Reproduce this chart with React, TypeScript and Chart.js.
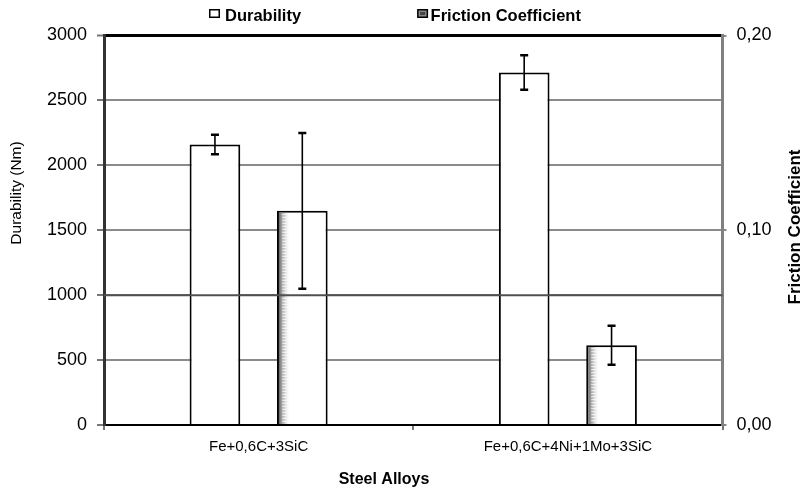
import React, { useEffect, useRef } from 'react';
import { Chart, registerables } from 'chart.js';

Chart.register(...registerables);

// ---- data ----
const categories = ['Fe+0,6C+3SiC', 'Fe+0,6C+4Ni+1Mo+3SiC'];
const seriesNames = ['Durability', 'Friction Coefficient'];
const durability = [2160, 2715];
const durabilityErr = [75, 133];
const friction = [0.11, 0.041];
const frictionErr = [0.04, 0.01];
const durabilityRange = [0, 3000];
const durabilityStep = 500;
const frictionRange = [0, 0.2];
const frictionStep = 0.1;
const overGridValue = 1000;
const leftTitle = 'Durability (Nm)';
const rightTitle = 'Friction Coefficient';
const bottomTitle = 'Steel Alloys';

const FONT = '"Liberation Sans", Arial, sans-serif';

const overlayPlugin = {
  id: 'overlay',
  afterDatasetsDraw(chart: any) {
    const { ctx, chartArea, scales } = chart;
    ctx.save();
    // shading strip on friction bars
    const meta1 = chart.getDatasetMeta(1);
    meta1.data.forEach((bar: any) => {
      const { x, y, base, width } = bar.getProps(['x', 'y', 'base', 'width'], true);
      const left = x - width / 2 + 2;
      const top = y + 2;
      const stripW = 11;
      const g = ctx.createLinearGradient(left, 0, left + stripW, 0);
      g.addColorStop(0, 'rgba(95,95,95,0.95)');
      g.addColorStop(0.5, 'rgba(170,170,170,0.6)');
      g.addColorStop(1, 'rgba(255,255,255,0)');
      ctx.fillStyle = g;
      ctx.fillRect(left, top, stripW, base - top);
      ctx.fillStyle = 'rgba(255,255,255,0.8)';
      for (let yy = top + 1; yy < base - 1; yy += 3) ctx.fillRect(left + 3, yy, 5, 1);
    });
    // gridline that shows over bars
    const py = scales.y.getPixelForValue(overGridValue);
    ctx.strokeStyle = '#505050';
    ctx.lineWidth = 2;
    ctx.beginPath();
    ctx.moveTo(chartArea.left, py);
    ctx.lineTo(chartArea.right, py);
    ctx.stroke();
    // error bars
    [durabilityErr, frictionErr].forEach((errs, di) => {
      const meta = chart.getDatasetMeta(di);
      const scale = scales[meta.yAxisID];
      const vals = chart.data.datasets[di].data as number[];
      meta.data.forEach((bar: any, i: number) => {
        const { x } = bar.getProps(['x'], true);
        const hi = scale.getPixelForValue(vals[i] + errs[i]);
        const lo = scale.getPixelForValue(vals[i] - errs[i]);
        ctx.strokeStyle = '#000';
        ctx.lineWidth = 1.6;
        ctx.beginPath();
        ctx.moveTo(x, hi);
        ctx.lineTo(x, lo);
        ctx.stroke();
        ctx.lineWidth = 2.5;
        ctx.beginPath();
        ctx.moveTo(x - 4, hi);
        ctx.lineTo(x + 4, hi);
        ctx.moveTo(x - 4, lo);
        ctx.lineTo(x + 4, lo);
        ctx.stroke();
      });
    });
    ctx.restore();
  },
  afterDraw(chart: any) {
    const { ctx } = chart;
    ctx.save();
    // legend
    ctx.font = `bold 16.5px ${FONT}`;
    ctx.textBaseline = 'alphabetic';
    ctx.textAlign = 'left';
    ctx.fillStyle = '#000';
    let lx = 209;
    seriesNames.forEach((name, i) => {
      ctx.lineWidth = 1.5;
      ctx.strokeStyle = '#000';
      ctx.fillStyle = i === 0 ? '#fff' : '#888';
      ctx.fillRect(lx + 0.75, 9.75, 9.5, 7.5);
      ctx.strokeRect(lx + 0.75, 9.75, 9.5, 7.5);
      if (i === 1) {
        ctx.fillStyle = '#444';
        ctx.fillRect(lx + 3, 12, 5, 3);
      }
      ctx.fillStyle = '#000';
      const tx = lx + (i === 0 ? 16 : 13.5);
      ctx.fillText(name, tx, 20.5);
      lx = tx + ctx.measureText(name).width + 116;
    });
    // axis titles
    ctx.textAlign = 'center';
    ctx.textBaseline = 'middle';
    ctx.font = `15.5px ${FONT}`;
    ctx.save();
    ctx.translate(17, 193);
    ctx.rotate(-Math.PI / 2);
    ctx.fillText(leftTitle, 0, 0);
    ctx.restore();
    ctx.font = `bold 17px ${FONT}`;
    ctx.save();
    ctx.translate(795, 227);
    ctx.rotate(-Math.PI / 2);
    ctx.fillText(rightTitle, 0, 0);
    ctx.restore();
    ctx.font = `bold 16px ${FONT}`;
    ctx.fillText(bottomTitle, 384, 480);
    ctx.restore();
  },
};

export default function App() {
  const ref = useRef<HTMLCanvasElement | null>(null);
  useEffect(() => {
    if (!ref.current) return;
    const chart = new Chart(ref.current, {
      type: 'bar',
      data: {
        labels: categories,
        datasets: [
          {
            label: seriesNames[0],
            data: durability,
            yAxisID: 'y',
            backgroundColor: '#fff',
            borderColor: '#000',
            borderWidth: 2,
            borderSkipped: 'bottom',
          },
          {
            label: seriesNames[1],
            data: friction,
            yAxisID: 'y1',
            backgroundColor: '#fff',
            borderColor: '#000',
            borderWidth: 2,
            borderSkipped: 'bottom',
          },
        ],
      },
      options: {
        animation: false,
        responsive: true,
        maintainAspectRatio: false,
        datasets: { bar: { categoryPercentage: 0.565, barPercentage: 0.58 } },
        layout: { padding: { top: 35.5, left: 0, right: 0, bottom: 0 } },
        plugins: { legend: { display: false }, tooltip: { enabled: false } },
        scales: {
          x: {
            z: 1,
            grid: { offset: true, drawOnChartArea: false, drawTicks: true, tickLength: 5, color: '#777', lineWidth: 2 },
            border: { display: true, color: '#000', width: 2 },
            ticks: { font: { family: FONT, size: 15 }, color: '#000', padding: 8, maxRotation: 0, autoSkip: false },
            afterFit: (s: any) => { s.height = 65; },
          },
          y: {
            position: 'left',
            min: durabilityRange[0],
            max: durabilityRange[1],
            ticks: {
              stepSize: durabilityStep,
              padding: 10,
              font: { family: FONT, size: 18 },
              color: '#000',
              callback: (v: any) => String(v),
            },
            grid: {
              color: (c: any) => (c.tick && c.tick.value === durabilityRange[1] ? '#000' : '#8a8a8a'),
              lineWidth: (c: any) => (c.tick && c.tick.value === durabilityRange[1] ? 3 : 2),
              tickLength: 7,
              tickColor: '#777',
              tickWidth: 2,
            },
            border: { color: '#333', width: 3 },
            afterFit: (s: any) => { s.width = 104; },
          },
          y1: {
            position: 'right',
            min: frictionRange[0],
            max: frictionRange[1],
            ticks: {
              stepSize: frictionStep,
              padding: 10,
              font: { family: FONT, size: 18 },
              color: '#000',
              callback: (v: any) => Number(v).toFixed(2).replace('.', ','),
            },
            grid: { drawOnChartArea: false, tickLength: 4, color: '#888', lineWidth: 2 },
            border: { color: '#808080', width: 3 },
            afterFit: (s: any) => { s.width = 87.5; },
          },
        },
      },
      plugins: [overlayPlugin],
    } as any);
    return () => chart.destroy();
  }, []);
  return (
    <div style={{ position: 'fixed', left: 0, top: 0, width: 810, height: 490, background: '#fff' }}>
      <canvas ref={ref} />
    </div>
  );
}
